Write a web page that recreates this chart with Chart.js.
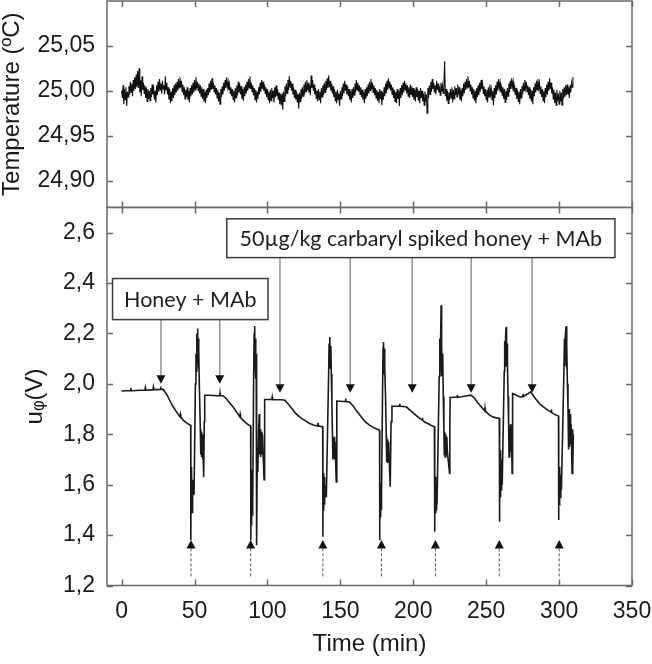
<!DOCTYPE html>
<html>
<head>
<meta charset="utf-8">
<script src="https://cdn.jsdelivr.net/npm/chart.js@4/dist/chart.umd.min.js"></script>
<style>
  html, body { margin: 0; padding: 0; background: #fff; }
</style>
</head>
<body>
<canvas id="chart" width="652" height="664"></canvas>
<script>
// tick values
var timeTicks = [0, 50, 100, 150, 200, 250, 300, 350];
var tempTicks = [24.90, 24.95, 25.00, 25.05];
var voltTicks = [1.2, 1.4, 1.6, 1.8, 2.0, 2.2, 2.4, 2.6];

// temperature, one reading every half minute from t = 0
var tempStartMin = 0;
var tempStepMin = 0.5;
var tempValues = [
  25.000, 24.992, 25.006, 24.985, 25.002, 24.990, 25.004, 24.983, 24.999, 24.993,
  25.005, 24.996, 25.010, 24.998, 25.008, 24.994, 25.012, 25.000, 25.015, 25.002,
  25.018, 25.004, 25.022, 25.003, 25.025, 24.998, 25.012, 24.994, 25.016, 25.001,
  25.009, 24.997, 25.006, 24.992, 25.004, 24.988, 25.002, 24.991, 25.000, 24.989,
  25.003, 24.993, 25.007, 24.996, 25.002, 24.990, 25.000, 24.987, 25.006, 24.995,
  25.010, 24.999, 25.013, 25.001, 25.008, 24.997, 25.011, 25.002, 25.006, 24.996,
  25.016, 25.001, 25.009, 24.996, 25.004, 24.990, 25.002, 24.986, 24.999, 24.988,
  25.003, 24.992, 25.006, 24.995, 25.008, 24.998, 25.010, 25.000, 25.013, 25.003,
  25.015, 25.004, 25.011, 24.999, 25.007, 24.995, 25.004, 24.991, 25.001, 24.993,
  25.004, 24.990, 25.000, 24.987, 25.003, 24.994, 25.006, 24.996, 25.009, 24.998,
  25.012, 25.001, 25.015, 25.003, 25.010, 25.000, 25.008, 24.997, 25.006, 24.994,
  25.004, 24.991, 25.002, 24.988, 24.999, 24.986, 25.001, 24.992, 25.003, 24.995,
  25.008, 24.998, 25.011, 25.001, 25.014, 25.002, 25.009, 24.999, 25.006, 24.996,
  25.003, 24.992, 25.001, 24.988, 24.998, 24.985, 25.002, 24.993, 25.005, 24.996,
  25.009, 25.000, 25.012, 25.003, 25.015, 25.004, 25.010, 25.001, 25.007, 24.997,
  25.004, 24.994, 25.002, 24.990, 25.000, 24.987, 25.003, 24.992, 25.006, 24.995,
  25.010, 24.998, 25.008, 24.996, 25.005, 24.991, 25.002, 24.989, 25.004, 24.994,
  25.007, 24.997, 25.010, 25.000, 25.013, 25.003, 25.016, 25.002, 25.009, 24.999,
  25.006, 24.995, 25.003, 24.990, 25.001, 24.987, 24.999, 24.991, 25.004, 24.996,
  25.009, 24.999, 25.012, 25.002, 25.010, 25.000, 25.007, 24.997, 25.004, 24.993,
  25.002, 24.990, 24.999, 24.986, 25.001, 24.989, 25.003, 24.992, 25.000, 24.987,
  25.004, 24.993, 25.006, 24.994, 25.002, 24.990, 24.998, 24.985, 24.996, 24.984,
  24.997, 24.979, 24.999, 24.988, 25.005, 24.994, 25.008, 24.997, 25.012, 25.001,
  25.016, 25.004, 25.011, 25.000, 25.008, 24.996, 25.004, 24.992, 25.001, 24.990,
  24.999, 24.987, 24.996, 24.980, 24.998, 24.988, 25.002, 24.991, 25.004, 24.994,
  25.007, 24.996, 25.010, 24.999, 25.012, 25.001, 25.009, 24.998, 25.006, 24.995,
  25.017, 25.003, 25.012, 25.000, 25.007, 24.996, 25.003, 24.991, 25.000, 24.988,
  25.002, 24.990, 24.999, 24.986, 25.003, 24.993, 25.006, 24.995, 25.009, 24.998,
  25.011, 25.001, 25.014, 25.003, 25.017, 25.004, 25.011, 25.000, 25.008, 24.997,
  25.005, 24.993, 25.002, 24.989, 24.999, 24.986, 25.001, 24.990, 24.997, 24.983,
  25.000, 24.991, 25.004, 24.994, 25.008, 24.997, 25.011, 25.000, 25.007, 24.996,
  25.005, 24.994, 25.002, 24.990, 25.000, 24.987, 25.002, 24.992, 25.004, 24.995,
  25.008, 24.998, 25.012, 25.001, 25.009, 24.999, 25.006, 24.996, 25.004, 24.993,
  25.001, 24.990, 24.999, 24.986, 25.002, 24.991, 25.004, 24.994, 25.007, 24.997,
  25.010, 25.000, 25.013, 25.002, 25.009, 24.998, 25.006, 24.995, 25.003, 24.992,
  25.001, 24.989, 24.999, 24.986, 25.002, 24.991, 25.000, 24.984, 24.998, 24.990,
  25.004, 24.994, 25.008, 24.997, 25.011, 25.001, 25.014, 25.003, 25.010, 25.000,
  25.007, 24.996, 25.004, 24.992, 25.001, 24.988, 24.999, 24.986, 25.002, 24.991,
  25.000, 24.983, 25.003, 24.992, 25.006, 24.995, 25.009, 24.998, 25.011, 25.001,
  25.008, 24.997, 25.006, 24.994, 25.004, 24.992, 25.007, 24.996, 25.005, 24.993,
  25.003, 24.990, 25.001, 24.988, 25.004, 24.993, 25.002, 24.989, 25.000, 24.986,
  25.003, 24.992, 25.000, 24.988, 24.997, 24.984, 24.999, 24.988, 24.996, 24.975,
  25.003, 24.992, 25.006, 24.996, 25.010, 24.999, 25.013, 25.002, 25.009, 24.998,
  25.006, 24.996, 25.011, 25.001, 25.008, 24.998, 25.005, 24.995, 25.009, 24.999,
  25.006, 24.997, 25.004, 25.033, 24.994, 25.002, 24.989, 25.000, 24.986, 24.998,
  24.990, 25.002, 24.992, 25.004, 24.987, 25.001, 24.991, 25.005, 24.995, 25.003,
  24.993, 25.007, 24.996, 25.004, 24.990, 25.001, 24.988, 25.003, 24.994, 25.008,
  24.997, 25.010, 25.001, 25.013, 25.003, 25.016, 25.004, 25.011, 25.000, 25.007,
  24.996, 25.004, 24.992, 25.002, 24.989, 25.000, 24.986, 25.003, 24.993, 25.006,
  24.995, 25.009, 24.999, 25.012, 25.002, 25.008, 24.997, 25.005, 24.994, 25.002,
  24.990, 25.001, 24.987, 25.004, 24.993, 25.007, 24.996, 25.002, 24.990, 25.000,
  24.984, 25.003, 24.992, 25.006, 24.996, 25.010, 25.000, 25.013, 25.003, 25.009,
  24.998, 25.006, 24.995, 25.004, 24.991, 25.002, 24.987, 25.000, 24.990, 25.003,
  24.994, 25.008, 24.998, 25.011, 25.002, 25.014, 25.004, 25.010, 24.999, 25.006,
  24.995, 25.003, 24.991, 25.001, 24.988, 24.999, 24.985, 25.002, 24.992, 25.005,
  24.996, 25.009, 25.000, 25.012, 25.003, 25.010, 24.999, 25.006, 24.995, 25.004,
  24.991, 25.002, 24.988, 25.000, 24.985, 25.004, 24.994, 25.008, 24.998, 25.011,
  25.001, 25.013, 25.003, 25.009, 24.997, 25.005, 24.993, 25.002, 24.989, 25.000,
  24.986, 25.003, 24.993, 25.007, 24.996, 25.010, 25.000, 25.014, 25.002, 25.009,
  24.997, 25.004, 24.991, 25.001, 24.986, 24.998, 24.984, 25.001, 24.989, 24.997,
  24.985, 25.000, 24.988, 24.998, 24.984, 25.002, 24.991, 25.004, 24.993, 25.006,
  24.995, 25.007, 24.996, 25.004, 24.992, 25.006, 24.998, 25.009, 25.004, 25.015
];

// u_phi trace, [time (min), volts], one array per injection cycle
var cycle0 = [[0,1.972],[3,1.973],[6,1.973],[6.3,1.984],[6.6,1.973],[10,1.974],[13,1.975],[16,1.975],[16.3,1.985],[16.6,1.975],
  [20,1.976],[21.5,1.976],[21.8,1.987],[22.1,1.977],[25,1.977],[26.5,1.978],[26.8,1.989],[27.1,1.978],[28.5,1.978],[31,1.958],
  [33,1.935],[35,1.912],[37.7,1.889],[40,1.870],[40.3,1.879],[40.6,1.869],[42.2,1.856],[44.5,1.845],[46.8,1.837],[47.4,1.836]];
var cycle1 = [[47.5,1.380],[47.6,1.600],[47.7,1.500],[47.8,1.670],[47.9,1.490],[48.0,1.650],[48.1,1.520],[48.2,1.660],[48.4,1.490],[48.6,1.620],
  [48.8,1.550],[49.2,1.600],[49.7,1.560],[50.6,2.000],[51.0,2.120],[51.3,2.050],[51.6,2.200],[51.9,2.080],[52.1,2.220],[52.3,2.100],
  [52.5,2.180],[52.8,2.060],[53.0,2.140],[53.3,2.000],[54.0,1.820],[54.3,1.720],[54.6,1.810],[54.9,1.710],[55.2,1.800],[55.5,1.700],
  [55.8,1.780],[56.3,1.630],[56.7,1.850],[57.0,1.955],[60,1.955],[63,1.954],[66,1.953],[67.3,1.953],[67.5,1.963],[67.7,1.953],
  [69.6,1.953],[72,1.940],[74,1.925],[76.4,1.909],[79,1.887],[81,1.870],[81.3,1.879],[81.6,1.868],[83,1.857],[85.6,1.843],
  [87.5,1.836],[88.5,1.833]];
var cycle2 = [[88.6,1.380],[88.7,1.580],[88.8,1.470],[89.0,1.660],[89.2,1.460],[89.4,1.640],[89.6,1.480],[89.8,1.620],[90.0,1.520],[90.6,2.050],
  [90.9,2.200],[91.1,2.060],[91.4,2.230],[91.6,2.080],[91.9,2.180],[92.1,2.020],[92.3,2.120],[92.6,1.360],[93.0,1.700],[93.4,1.650],
  [94.0,1.820],[94.4,1.880],[94.7,1.720],[95.0,1.820],[95.4,1.710],[95.8,1.810],[96.2,1.720],[96.6,1.800],[97.0,1.730],[97.7,1.620],
  [98.0,1.850],[98.2,1.938],[100,1.938],[103,1.938],[103.3,1.948],[103.6,1.937],[106,1.937],[109.6,1.937],[111.9,1.935],[114,1.922],
  [117,1.900],[119,1.885],[122,1.869],[125,1.857],[129,1.843],[132,1.836],[134.5,1.833],[134.7,1.845],[134.9,1.833],[137.9,1.830]];
var cycle3 = [[138.0,1.393],[138.1,1.620],[138.3,1.500],[138.5,1.646],[138.7,1.510],[138.9,1.630],[139.1,1.520],[139.4,1.600],[140.4,1.550],[142.0,2.050],
  [142.3,2.160],[142.6,2.060],[142.9,2.186],[143.2,2.080],[143.5,2.150],[143.8,2.040],[144.2,1.930],[144.6,1.790],[144.9,1.700],[145.2,1.780],
  [145.5,1.710],[145.8,1.790],[146.1,1.700],[146.4,1.770],[147.2,1.611],[147.5,1.850],[147.7,1.932],[150,1.931],[152,1.930],[153.5,1.930],
  [153.7,1.942],[153.9,1.930],[156.4,1.928],[159,1.910],[161.5,1.890],[164.4,1.869],[167,1.850],[170,1.836],[173,1.826],[175.5,1.820],
  [176.9,1.816]];
var cycle4 = [[177.0,1.380],[177.1,1.580],[177.3,1.480],[177.5,1.606],[177.7,1.470],[177.9,1.590],[178.1,1.500],[178.4,1.560],[179.0,2.000],[179.3,2.147],
  [179.5,2.050],[179.7,2.166],[180.0,2.040],[180.3,2.140],[180.6,2.060],[181.0,1.950],[181.5,1.790],[181.8,1.690],[182.1,1.780],[182.4,1.686],
  [182.7,1.770],[183.0,1.700],[183.3,1.760],[184.2,1.592],[184.8,1.850],[185.4,1.911],[188,1.911],[190.5,1.911],[190.7,1.921],[190.9,1.911],
  [193,1.910],[195.2,1.909],[198,1.895],[200.5,1.882],[203.2,1.869],[206,1.856],[206.3,1.866],[206.6,1.855],[208,1.848],[210,1.843],
  [212,1.836],[214.5,1.830]];
var cycle5 = [[214.6,1.413],[214.7,1.600],[214.9,1.490],[215.1,1.631],[215.3,1.486],[215.5,1.620],[215.8,1.500],[216.0,1.600],[216.3,1.520],[217.8,2.030],
  [218.2,2.180],[218.5,2.050],[218.8,2.190],[219.1,2.312],[219.3,2.030],[219.6,2.150],[219.9,2.050],[220.2,2.120],[220.6,1.950],[221.0,1.820],
  [221.3,1.720],[221.6,1.810],[221.9,1.710],[222.3,1.800],[222.6,1.720],[223.0,1.790],[223.4,1.730],[224.9,1.645],[225.1,1.850],[225.3,1.946],
  [228,1.947],[230,1.947],[230.2,1.957],[230.4,1.947],[233,1.949],[236,1.952],[239.7,1.955],[242,1.943],[244,1.927],[246.6,1.909],
  [249,1.893],[249.2,1.903],[249.4,1.892],[252.3,1.876],[255,1.868],[257,1.865],[259,1.863]];
var cycle6 = [[259.1,1.453],[259.2,1.700],[259.4,1.560],[259.6,1.737],[259.8,1.550],[260.0,1.720],[260.3,1.580],[260.6,1.700],[261.0,1.600],[262.4,2.050],
  [262.7,2.170],[263.0,2.070],[263.3,2.186],[263.7,2.226],[264.0,2.070],[264.3,2.160],[264.6,2.080],[265.0,1.950],[265.4,1.840],[265.7,1.710],
  [266.0,1.830],[266.3,1.720],[266.7,1.840],[267.0,1.730],[267.4,1.800],[267.8,1.645],[268.0,1.850],[268.2,1.962],[270,1.957],[272,1.951],
  [273.5,1.948],[275,1.950],[275.2,1.960],[275.4,1.950],[277,1.955],[279,1.962],[280.5,1.968],[281.5,1.960],[284,1.940],[286.5,1.922],
  [289,1.910],[292.2,1.896],[294.5,1.888],[294.7,1.899],[294.9,1.887],[296,1.882],[298,1.876],[299.6,1.872]];
var cycle7 = [[299.7,1.460],[299.8,1.640],[300.0,1.530],[300.2,1.671],[300.4,1.526],[300.6,1.660],[300.9,1.550],[301.2,1.640],[301.6,1.580],[303.3,2.050],
  [303.7,2.180],[304.0,2.070],[304.4,2.200],[304.8,2.229],[305.1,2.060],[305.4,2.150],[305.7,2.000],[306.1,1.910],[306.5,1.740],[306.8,1.900],
  [307.1,1.750],[307.5,1.880],[307.9,1.760],[308.3,1.840],[308.9,1.645],[309.2,1.820],[309.5,1.660],[309.8,1.800]];

// annotation marks (time in min, level in V)
var honeyArrowTimes = [27, 67.3];
var spikedArrowTimes = [108.6, 156.8, 199.3, 239.7, 281.5];
var injectionTimes = [47.6, 88.5, 138, 178.2, 215.2, 259, 300.1];

var labels = {
  honey: { text: 'Honey + MAb', t0: -6.2, t1: 100.4, v0: 2.255, v1: 2.418, tip: 2.0 },
  spiked: { text: '50µg/kg carbaryl spiked honey + MAb', t0: 72.1, t1: 338.3, v0: 2.501, v1: 2.655, tip: 1.965 },
  inject: { tip: 1.381, end: 1.234 }
};

var axisFont = 'Arial, "Liberation Sans", sans-serif';
var boxFont = 'Lato, "Open Sans", sans-serif';

var tempData = tempValues.map(function (v, i) { return { x: tempStartMin + i * tempStepMin, y: v }; });
var voltData = [].concat(cycle0, cycle1, cycle2, cycle3, cycle4, cycle5, cycle6, cycle7)
  .map(function (p) { return { x: p[0], y: p[1] }; });

function comma(digits) {
  return function (v) { return Number(v).toFixed(digits).replace('.', ','); };
}

// frame + inward ticks for both panels
var framePlugin = {
  id: 'frame',
  afterDatasetsDraw: function (chart) {
    var ctx = chart.ctx, xs = chart.scales.x;
    ['yT', 'yU'].forEach(function (id) {
      var ys = chart.scales[id];
      ctx.save();
      ctx.strokeStyle = '#6a6a6a';
      ctx.lineWidth = 1.5;
      ctx.strokeRect(xs.left, ys.top, xs.right - xs.left, ys.bottom - ys.top);
      ctx.beginPath();
      xs.ticks.forEach(function (t) {
        var px = Math.round(xs.getPixelForValue(t.value)) + 0.5;
        ctx.moveTo(px, ys.top); ctx.lineTo(px, ys.top + 6);
        ctx.moveTo(px, ys.bottom); ctx.lineTo(px, ys.bottom - 6);
      });
      ys.ticks.forEach(function (t) {
        var py = Math.round(ys.getPixelForValue(t.value)) + 0.5;
        ctx.moveTo(xs.left, py); ctx.lineTo(xs.left + 6, py);
        ctx.moveTo(xs.right, py); ctx.lineTo(xs.right - 6, py);
      });
      ctx.stroke();
      ctx.restore();
    });
  }
};

// boxes and arrows
var notePlugin = {
  id: 'notes',
  afterDatasetsDraw: function (chart) {
    var ctx = chart.ctx, xs = chart.scales.x, ys = chart.scales.yU;
    function X(t) { return xs.getPixelForValue(t); }
    function Y(v) { return ys.getPixelForValue(v); }

    function box(b) {
      var l = X(b.t0), r = X(b.t1), top = Y(b.v1), bot = Y(b.v0);
      ctx.fillStyle = '#fff';
      ctx.fillRect(l, top, r - l, bot - top);
      ctx.strokeStyle = '#3a3a3a';
      ctx.lineWidth = 1.5;
      ctx.strokeRect(l, top, r - l, bot - top);
      ctx.fillStyle = '#1e1e1e';
      ctx.font = '21.5px ' + boxFont;
      ctx.textAlign = 'center';
      ctx.textBaseline = 'middle';
      ctx.fillText(b.text, (l + r) / 2, (top + bot) / 2 + 1);
    }

    function downArrow(t, from, to) {
      var px = X(t), y0 = Y(from), y1 = Y(to);
      ctx.strokeStyle = '#8a8a8a';
      ctx.lineWidth = 1.4;
      ctx.beginPath(); ctx.moveTo(px, y0); ctx.lineTo(px, y1 - 8); ctx.stroke();
      ctx.fillStyle = '#111';
      ctx.beginPath(); ctx.moveTo(px - 4.5, y1 - 8.5); ctx.lineTo(px + 4.5, y1 - 8.5); ctx.lineTo(px, y1); ctx.closePath(); ctx.fill();
    }

    function upArrow(t, tip, end) {
      var px = X(t), y0 = Y(tip), y1 = Y(end);
      ctx.fillStyle = '#111';
      ctx.beginPath(); ctx.moveTo(px - 4.5, y0 + 8.5); ctx.lineTo(px + 4.5, y0 + 8.5); ctx.lineTo(px, y0); ctx.closePath(); ctx.fill();
      ctx.strokeStyle = '#555';
      ctx.lineWidth = 1;
      ctx.setLineDash([3, 2]);
      ctx.beginPath(); ctx.moveTo(px, y0 + 8.5); ctx.lineTo(px, y1); ctx.stroke();
      ctx.setLineDash([]);
    }

    ctx.save();
    honeyArrowTimes.forEach(function (t) { downArrow(t, labels.honey.v0, labels.honey.tip); });
    spikedArrowTimes.forEach(function (t) { downArrow(t, labels.spiked.v0, labels.spiked.tip); });
    injectionTimes.forEach(function (t) { upArrow(t, labels.inject.tip, labels.inject.end); });
    box(labels.honey);
    box(labels.spiked);
    ctx.restore();
  }
};

var tickFont = { family: axisFont, size: 23 };
var yTitleFont = { family: axisFont, size: 24, lineHeight: 1 };
var xTitleFont = { family: axisFont, size: 24 };

function noEdgePad(s) { s.paddingTop = 0; s.paddingBottom = 0; s.paddingLeft = 0; s.paddingRight = 0; }

var config = {
  type: 'line',
  data: {
    datasets: [{
      data: voltData,
      yAxisID: 'yU',
      borderColor: '#1a1a1a',
      borderWidth: 1.6,
      pointRadius: 0,
      tension: 0,
      fill: false
    }, {
      data: tempData,
      yAxisID: 'yT',
      borderColor: '#111',
      borderWidth: 1.1,
      pointRadius: 0,
      tension: 0,
      fill: false
    }]
  },
  options: {
    responsive: false,
    animation: false,
    layout: { padding: { left: 0, right: 20, top: 1, bottom: 0 } },
    plugins: { legend: { display: false }, tooltip: { enabled: false } },
    scales: {
      x: {
        type: 'linear', position: 'bottom', min: -10, max: 350,
        afterBuildTicks: function (s) { s.ticks = timeTicks.map(function (v) { return { value: v }; }); },
        afterFit: function (s) { s.height = 78.5; noEdgePad(s); },
        grid: { display: false, drawTicks: false },
        border: { display: false },
        ticks: { padding: 12, font: tickFont, color: '#1a1a1a', maxRotation: 0, autoSkip: false },
        title: { display: true, text: 'Time (min)', font: xTitleFont, color: '#1a1a1a', padding: { top: 0, bottom: 5 } }
      },
      yU: {
        type: 'linear', position: 'left', stack: 'panels', stackWeight: 378.5, min: 1.2, max: 2.7,
        afterBuildTicks: function (s) { s.ticks = voltTicks.map(function (v) { return { value: v }; }); },
        afterFit: function (s) { s.width = 107; noEdgePad(s); },
        grid: { display: false, drawTicks: false },
        border: { display: false },
        ticks: { padding: 12, font: tickFont, color: '#1a1a1a', callback: comma(1) },
        title: { display: true, text: 'uᵩ(V)', font: yTitleFont, color: '#1a1a1a', padding: { top: 23, bottom: 0 } }
      },
      yT: {
        type: 'linear', position: 'left', stack: 'panels', stackWeight: 206.7, min: 24.87, max: 25.10,
        afterBuildTicks: function (s) { s.ticks = tempTicks.map(function (v) { return { value: v }; }); },
        afterFit: function (s) { s.width = 107; noEdgePad(s); },
        grid: { display: false, drawTicks: false },
        border: { display: false },
        ticks: { padding: 12, font: tickFont, color: '#1a1a1a', callback: comma(2) },
        title: { display: true, text: 'Temperature (ºC)', font: yTitleFont, color: '#1a1a1a', padding: { top: 0, bottom: 0 } }
      }
    }
  },
  plugins: [framePlugin, notePlugin]
};

var chart = new Chart(document.getElementById('chart').getContext('2d'), config);
</script>
</body>
</html>
